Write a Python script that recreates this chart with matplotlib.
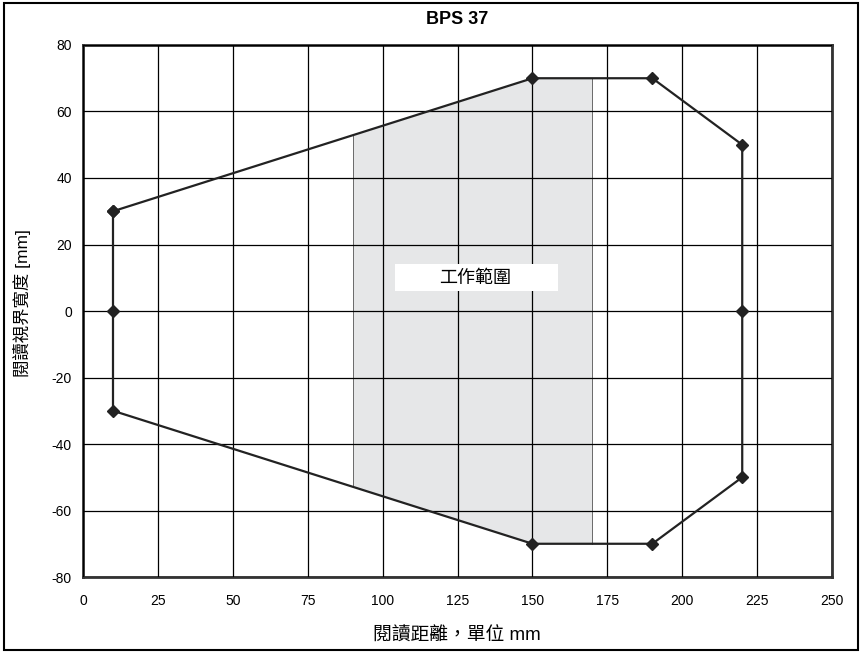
import numpy as np
import matplotlib
matplotlib.use('Agg')
from matplotlib import pyplot as plt
from matplotlib.patches import Rectangle

plt.rcParams['font.family'] = ['Liberation Sans', 'Noto Sans CJK TC', 'DejaVu Sans']
plt.rcParams['axes.unicode_minus'] = False

# outline of the reading field (distance mm, width mm)
dist = [10, 150, 190, 220, 220, 220, 190, 150, 10, 10, 10]
width = [30, 70, 70, 50, 0, -50, -70, -70, -30, 0, 30]

# working range
work_start = 90
work_end = 170
work_label = '工作範圍'

xticks = [0, 25, 50, 75, 100, 125, 150, 175, 200, 225, 250]
yticks = [-80, -60, -40, -20, 0, 20, 40, 60, 80]

fig = plt.figure(figsize=(8.64, 6.52), dpi=100)
ax = fig.add_axes([0.0961, 0.115, 0.867, 0.816])

# shaded working range, following the outline
top_x = [10, 150, 190]
top_y = [30, 70, 70]
xs = np.array([work_start] + [x for x in top_x if work_start < x < work_end] + [work_end])
ys_top = np.interp(xs, top_x, top_y)
ax.fill_between(xs, -ys_top, ys_top, color='#e6e7e8', zorder=1, linewidth=0)
for xv in (work_start, work_end):
    yv = np.interp(xv, top_x, top_y)
    ax.plot([xv, xv], [-yv, yv], color='#555555', lw=0.6, zorder=1.5)

ax.set_xlim(0, 250)
ax.set_ylim(-80, 80)
ax.set_xticks(xticks)
ax.set_yticks(yticks)
ax.grid(True, color='black', lw=0.9, zorder=2)
ax.set_axisbelow(False)
ax.tick_params(length=0, labelsize=10, pad=12)
ax.tick_params(axis='y', pad=8)
for sp in ax.spines.values():
    sp.set_linewidth(2)
    sp.set_color('#333333')

ax.plot(dist, width, color='#222222', lw=1.6, marker='D', markersize=6, zorder=4)

# label box
ax.add_patch(Rectangle((104, 6), 54.5, 8, facecolor='white', edgecolor='none', zorder=3))
ax.text(131, 10, work_label, ha='center', va='center', fontsize=13, zorder=3.5,
        family=['Noto Sans CJK TC', 'DejaVu Sans'])

fig.text(0.5287, 1 - 20 / 652, 'BPS 37', ha='center', va='center', fontweight='bold', fontsize=13)
fig.text(0.5287, 1 - 636 / 652, '閱讀距離，單位 mm', ha='center', va='center', fontsize=13.5)
fig.text(22 / 864, 1 - 303 / 652, '閱讀視界寬度 [mm]', ha='center', va='center',
         rotation=90, fontsize=12.5)

fig.patches.append(Rectangle((4 / 864, 2 / 652), 854 / 864, 647 / 652, transform=fig.transFigure,
                             fill=False, edgecolor='black', lw=1.5))

fig.savefig('out.png', dpi=100)
